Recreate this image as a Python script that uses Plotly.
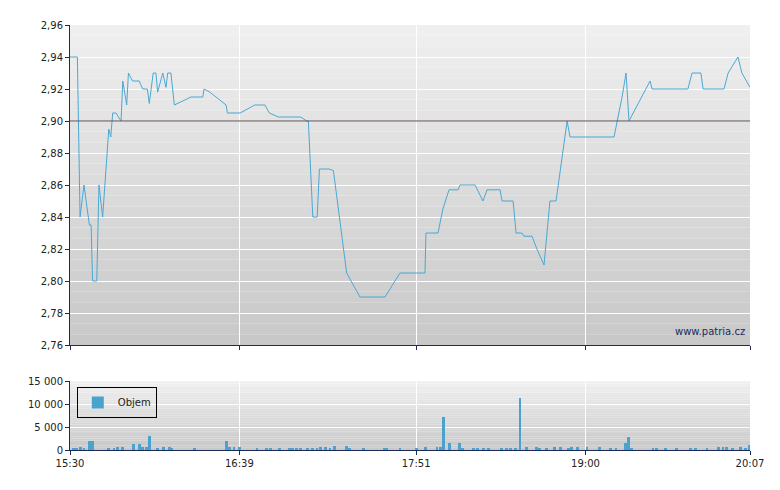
import pandas as pd
import plotly.graph_objects as go

# price line: minutes after 15:30 and price
price_min = [0, 3.0, 4.1, 5.7, 7.9, 8.6, 9.2, 10.9, 11.8, 13.3, 15.8, 16.6, 17.4, 18.7, 20.8,
             21.5, 23.1, 23.8, 25.5, 28.2, 29.6, 31.5, 32.3, 33.9, 35.0, 35.7, 37.8, 39.1, 39.8,
             41.1, 42.5, 49.3, 54.1, 54.6, 57.0, 63.6, 64.1, 69.3, 75.3, 79.4, 81.2, 84.9, 94.0,
             96.4, 97.1, 98.9, 100.7, 101.6, 105.6, 107.3, 112.7, 118.1, 128.3, 134.4, 144.6,
             145.0, 149.9, 151.9, 154.4, 158.1, 158.9, 165.0, 168.2, 169.9, 175.2, 176.0, 180.5,
             181.7, 184.1, 184.9, 188.2, 190.2, 193.1, 195.5, 198.0, 200.4, 202.5, 203.7, 221.6,
             224.9, 226.5, 227.7, 236.3, 237.1, 251.7, 253.4, 257.0, 257.9, 266.4, 268.1, 272.1,
             273.7, 277.0]
price = [2.94, 2.94, 2.84, 2.86, 2.835, 2.835, 2.80, 2.80, 2.86, 2.84, 2.895, 2.89, 2.905, 2.905,
         2.90, 2.925, 2.91, 2.93, 2.925, 2.925, 2.92, 2.92, 2.911, 2.93, 2.93, 2.918, 2.93, 2.921,
         2.93, 2.93, 2.91, 2.915, 2.915, 2.92, 2.918, 2.91, 2.905, 2.905, 2.91, 2.91, 2.905,
         2.9025, 2.9025, 2.90, 2.90, 2.84, 2.84, 2.87, 2.87, 2.869, 2.805, 2.79, 2.79, 2.805,
         2.805, 2.83, 2.83, 2.845, 2.857, 2.857, 2.86, 2.86, 2.85, 2.857, 2.857, 2.85, 2.85,
         2.83, 2.83, 2.828, 2.828, 2.82, 2.81, 2.85, 2.85, 2.875, 2.90, 2.89, 2.89, 2.915, 2.93,
         2.90, 2.925, 2.92, 2.92, 2.93, 2.93, 2.92, 2.92, 2.93, 2.94, 2.93, 2.921]

# volume bars
vol_min = [1.3, 2.8, 4.3, 5.7, 8.1, 9.0, 15.6, 17.9, 19.2, 21.3, 25.8, 28.2, 29.5, 31.0, 32.5,
           35.7, 38.2, 40.4, 41.4, 50.8, 63.9, 64.9, 66.8, 69.0, 76.2, 79.9, 81.8, 85.2, 89.3,
           90.8, 92.1, 94.0, 96.8, 98.7, 100.6, 102.1, 104.0, 105.9, 107.6, 112.8, 113.8, 119.4,
           127.9, 128.8, 134.4, 141.0, 144.8, 149.5, 151.0, 152.3, 154.7, 158.5, 159.8, 164.5,
           166.0, 168.3, 170.5, 175.8, 177.7, 179.6, 181.4, 183.3, 186.1, 189.9, 191.2, 194.2,
           197.4, 199.9, 203.1, 204.4, 206.8, 210.6, 215.7, 220.0, 222.4, 226.2, 227.5, 228.8,
           237.5, 238.8, 242.5, 246.9, 252.9, 254.8, 259.5, 264.2, 266.0, 267.5, 269.8, 273.2,
           275.1, 276.6]
volume = [300, 300, 600, 300, 2000, 2000, 500, 300, 700, 700, 1200, 1200, 700, 700, 3100,
          300, 600, 600, 300, 300, 2000, 700, 700, 700, 300, 300, 500, 500, 500, 500, 500, 500,
          300, 300, 300, 700, 700, 300, 900, 900, 300, 300, 300, 300, 300, 300, 700, 700, 700,
          7200, 1600, 1600, 300, 300, 300, 300, 500, 500, 300, 300, 300, 11400, 700, 700, 500,
          300, 700, 700, 300, 700, 700, 700, 700, 300, 300, 1600, 2700, 300, 500, 300, 300,
          300, 300, 300, 300, 700, 700, 700, 300, 700, 300, 1000]

tick_labels = ["15:30", "16:39", "17:51", "19:00", "20:07"]

day = pd.Timestamp("2024-01-01 15:30")
px_t = [day + pd.Timedelta(minutes=m) for m in price_min]
vol_t = [day + pd.Timedelta(minutes=m) for m in vol_min]
tick_vals = [pd.Timestamp("2024-01-01 " + t) for t in tick_labels]
x0, x1 = tick_vals[0], tick_vals[-1]

fig = go.Figure()
fig.add_trace(go.Scatter(x=px_t, y=price, mode="lines", line=dict(color="#4aa8d4", width=1),
                         xaxis="x", yaxis="y", showlegend=False))
fig.add_trace(go.Bar(x=vol_t, y=volume, marker=dict(color="#4aa3cf", line=dict(width=0)),
                     width=70000, name="Objem", xaxis="x2", yaxis="y2"))

# gradient backgrounds
shapes = []
n = 30
for ax, (d0, d1) in [("y", (0.247, 1.0)), ("y2", (0.0, 0.162))]:
    for i in range(n):
        f = i / n
        c = int(240 - 40 * (1 - f - 0.5 / n))
        lo = d0 + (d1 - d0) * f
        hi = d0 + (d1 - d0) * (i + 1) / n
        shapes.append(dict(type="rect", xref="x domain" if ax == "y" else "x2 domain",
                           yref="paper", x0=0, x1=1, y0=lo, y1=hi, layer="below",
                           line=dict(width=0), fillcolor=f"rgb({c},{c},{c})"))
shapes.append(dict(type="line", xref="x domain", yref="y", x0=0, x1=1, y0=2.90, y1=2.90,
                   line=dict(color="#5a4a4a", width=1)))

axis_col = "#1a2a5a"
common_x = dict(type="date", range=[x0, x1], tickvals=tick_vals, showgrid=True, gridcolor="white",
                gridwidth=1, ticks="outside", ticklen=4, tickcolor=axis_col, showline=True,
                linecolor=axis_col, zeroline=False)
common_y = dict(showgrid=True, gridcolor="white", ticks="outside", ticklen=4, tickcolor=axis_col,
                showline=True, linecolor=axis_col, zeroline=False)

fig.update_layout(
    width=780, height=490, paper_bgcolor="white", plot_bgcolor="rgba(0,0,0,0)",
    margin=dict(l=62, r=38, t=17, b=48), separators=", ",
    font=dict(family="DejaVu Sans", size=10, color="#222"),
    shapes=shapes, bargap=0,
    xaxis=dict(common_x, domain=[0, 1], anchor="y", showticklabels=False),
    yaxis=dict(common_y, domain=[0.247, 1.0], range=[2.76, 2.96], dtick=0.02, tickformat=".2f"),
    xaxis2=dict(common_x, domain=[0, 1], anchor="y2", ticktext=tick_labels),
    yaxis2=dict(common_y, domain=[0.0, 0.162], range=[0, 15000], tickvals=[0, 5000, 10000, 15000],
                ticktext=["0", "5 000", "10 000", "15 000"]),
    legend=dict(x=0.01, y=0.112, xanchor="left", yanchor="middle", bgcolor="rgba(0,0,0,0)",
                bordercolor="black", borderwidth=1, font=dict(size=10),
                itemwidth=30, tracegroupgap=0),
    showlegend=True,
    annotations=[dict(text="www.patria.cz", xref="paper", yref="paper", x=0.995, y=0.262,
                      xanchor="right", yanchor="bottom", showarrow=False,
                      font=dict(size=10, color=axis_col))],
)
fig.write_html("out.html")
